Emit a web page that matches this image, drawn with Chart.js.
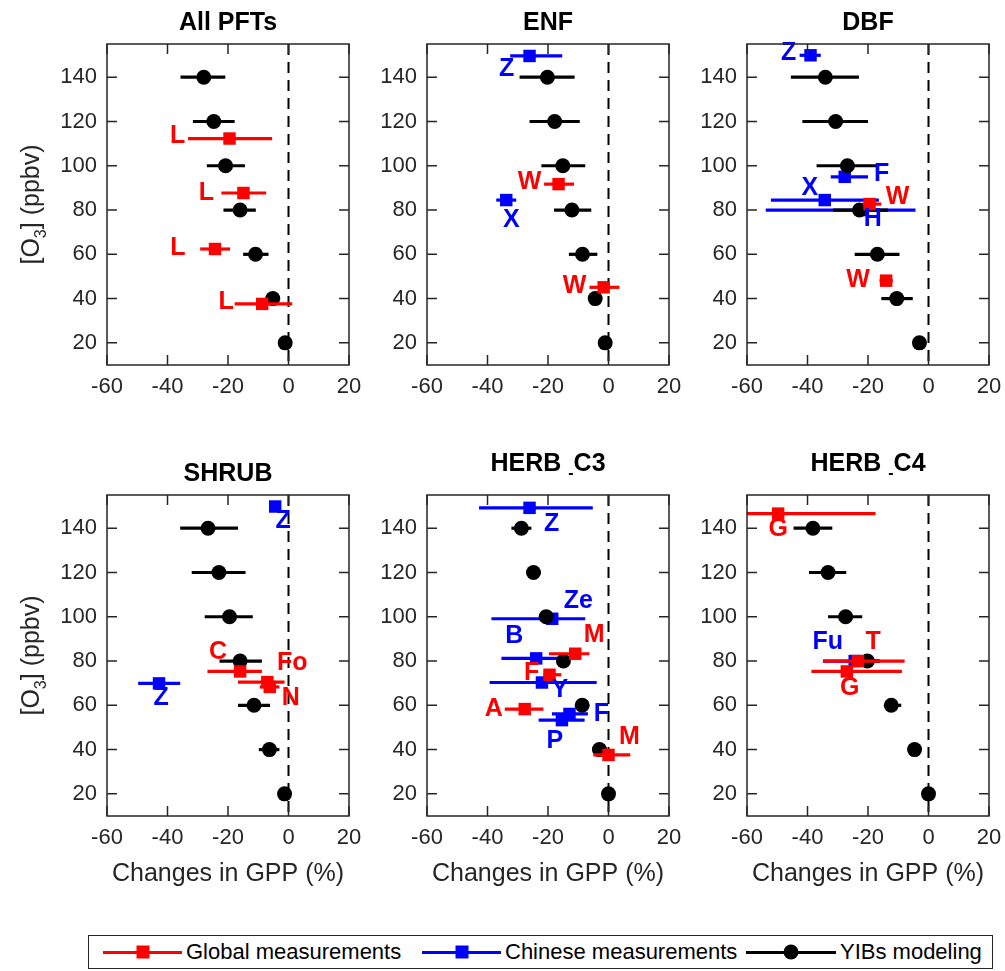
<!DOCTYPE html>
<html>
<head>
<meta charset="utf-8">
<script src="https://cdn.jsdelivr.net/npm/chart.js@4.4.0/dist/chart.umd.min.js"></script>
<style>
  body { margin: 0; background: #fff; }
  #fig { position: relative; width: 1005px; height: 971px; font-family: "Liberation Sans", Arial, sans-serif; }
  #fig canvas { position: absolute; }
  #legend { position: absolute; left: 88px; top: 935px; width: 903px; height: 32px; border: 1px solid #262626; }
  .key { position: absolute; top: 16px; height: 3px; margin-top: -1.5px; }
  .mk { position: absolute; top: 50%; left: 50%; transform: translate(-50%, -50%); }
  .txt { position: absolute; top: 0; line-height: 32px; font-size: 22px; color: #000; white-space: nowrap; }
</style>
</head>
<body>
<div id="fig">
  <div id="legend">
    <div class="key" style="left:14px;width:79px;background:#ff0000"><div class="mk" style="width:13px;height:13px;background:#ff0000"></div></div>
    <div class="txt" style="left:97px">Global measurements</div>
    <div class="key" style="left:333px;width:79px;background:#0000ff"><div class="mk" style="width:13px;height:13px;background:#0000ff"></div></div>
    <div class="txt" style="left:416px">Chinese measurements</div>
    <div class="key" style="left:657px;width:90px;background:#000"><div class="mk" style="width:15px;height:15px;border-radius:50%;background:#000"></div></div>
    <div class="txt" style="left:751px">YIBs modeling</div>
  </div>
</div>
<script>
// O3 levels and axis ticks
const o3Levels = [20, 40, 60, 80, 100, 120, 140];
const gppTicks = [-60, -40, -20, 0, 20];
const panelTitles = ['All PFTs', 'ENF', 'DBF', 'SHRUB', 'HERB_C3', 'HERB_C4'];

// YIBs modeling: [mean, low, high] at each O3 level
const yibsAll = [[-1.1, -1.1, -1.1], [-5.2, -7, -3.5], [-10.9, -15, -6.6], [-16, -21.5, -10.8], [-20.8, -27, -14.4], [-24.7, -31.6, -17.8], [-28, -35.7, -20.9]];
const yibsEnf = [[-1.1, -1.1, -1.1], [-4.4, -6, -3], [-8.6, -13.1, -3.7], [-12.1, -18, -5.7], [-15.1, -22.2, -7.7], [-17.8, -26.1, -9.5], [-20.2, -29.4, -11.2]];
const yibsDbf = [[-3, -3, -3], [-10.5, -15.6, -5.2], [-16.9, -24.4, -9.6], [-22.8, -31.6, -13.4], [-26.8, -37, -17], [-30.7, -41.7, -20], [-34.1, -45.5, -23]];
const yibsShrub = [[-1.3, -1.3, -1.3], [-6.3, -9.8, -3], [-11.4, -16.7, -6.1], [-16, -22.8, -8.8], [-19.5, -27.7, -11.8], [-23, -32, -14.2], [-26.6, -35.8, -16.7]];
const yibsC3 = [[0, 0, 0], [-3, -4.5, -1.5], [-8.7, -10, -7.3], [-14.9, -16, -13.5], [-20.6, -22, -19], [-24.8, -27, -22.5], [-28.8, -32.1, -25.5]];
const yibsC4 = [[0, 0, 0], [-4.6, -5.5, -3.7], [-12.3, -14.5, -9], [-20.2, -25.5, -16], [-27.4, -33.2, -21.9], [-33.2, -39.5, -27.2], [-38.2, -44.6, -31.8]];

// measurements: [change, O3, low, high, study tag]
const allGlobal = [[-19.5, 112.3, -33.2, -5.4, 'L'], [-14.9, 87.7, -22.2, -7.4, 'L'], [-24.3, 62.4, -29.2, -19.3, 'L'], [-8.7, 37.6, -17.8, 1.2, 'L']];
const allChinese = [];
const enfGlobal = [[-16.5, 91.7, -21.3, -11.4, 'W'], [-1.6, 45.1, -6.3, 3.6, 'W']];
const enfChinese = [[-26.1, 149.6, -32.5, -15.3, 'Z'], [-33.8, 84.5, -37.1, -30.5, 'X']];
const dbfGlobal = [[-19.5, 82.7, -21.7, -15.6, 'W'], [-14, 48.1, -16.2, -11.8, 'W']];
const dbfChinese = [[-39, 149.9, -42.6, -35.6, 'Z'], [-27.7, 95, -32.3, -20, 'F'], [-34.3, 84.5, -52.1, -16.4, 'X'], [-21.7, 80, -53.8, -4.3, 'H']];
const shrubGlobal = [[-16, 75.3, -26.8, -8.8, 'C'], [-7, 70.5, -16.7, -1.3, 'Fo'], [-6.2, 68.3, -9.5, -3, 'N']];
const shrubChinese = [[-4.4, 149.8, -5.5, -3.3, 'Z'], [-42.8, 69.9, -49.7, -35.8, 'Z']];
const c3Global = [[-11, 83.3, -19.7, -6.3, 'M'], [-19.5, 73.8, -21.5, -15.6, 'F'], [-27.7, 58.3, -34.3, -21.5, 'A'], [0, 37.6, -5, 7.2, 'M']];
const c3Chinese = [[-26.1, 149.2, -42.8, -5.2, 'Z'], [-18.6, 99.1, -38.7, -7.7, 'Ze'], [-23.9, 81.2, -35.4, -13.1, 'B'], [-22, 70.3, -39.3, -3.9, 'Y'], [-12.9, 56.1, -18.7, -6.8, 'F'], [-15.4, 53.3, -23.1, -7.9, 'P']];
const c4Global = [[-49.7, 146.6, -61, -17.5, 'G'], [-23.3, 80, -34.9, -7.9, 'T'], [-27, 75.3, -38.7, -8.8, 'G']];
const c4Chinese = [[-24.4, 80, -34.9, -16.2, 'Fu']];

// tag placement, pixel offset from marker
const allGlobalTag = [[-52, -2], [-37, 0], [-37, -1], [-36, -2]];
const enfGlobalTag = [[-29, -2], [-29, -1]];
const enfChineseTag = [[-23, 13], [5, 20]];
const dbfGlobalTag = [[28, -7], [-28, -1]];
const dbfChineseTag = [[-22, -2], [37, -3], [-15, -12], [10, 9]];
const shrubGlobalTag = [[-22, -19], [25, -19], [21, 11]];
const shrubChineseTag = [[8, 15], [2, 15]];
const c3GlobalTag = [[19, -19], [-18, -2], [-31, 0], [21, -18]];
const c3ChineseTag = [[22, 16], [26, -18], [-22, -22], [18, 8], [32, 0], [-7, 21]];
const c4GlobalTag = [[0, 16], [15, -19], [3, 17]];
const c4ChineseTag = [[-27, -19]];

const panels = [
  { yibs: yibsAll, glob: allGlobal, globTag: allGlobalTag, chn: allChinese, chnTag: [] },
  { yibs: yibsEnf, glob: enfGlobal, globTag: enfGlobalTag, chn: enfChinese, chnTag: enfChineseTag },
  { yibs: yibsDbf, glob: dbfGlobal, globTag: dbfGlobalTag, chn: dbfChinese, chnTag: dbfChineseTag },
  { yibs: yibsShrub, glob: shrubGlobal, globTag: shrubGlobalTag, chn: shrubChinese, chnTag: shrubChineseTag },
  { yibs: yibsC3, glob: c3Global, globTag: c3GlobalTag, chn: c3Chinese, chnTag: c3ChineseTag },
  { yibs: yibsC4, glob: c4Global, globTag: c4GlobalTag, chn: c4Chinese, chnTag: c4ChineseTag }
];

const FONT = '"Liberation Sans", Arial, Helvetica, sans-serif';
Chart.defaults.font.family = FONT;
Chart.defaults.color = '#262626';

const plotLefts = [107, 427, 747];
const plotTops = [44, 495];
const plotW = 242, plotH = 321;
const padL = 100, padT = 44, padR = 14;

// draws text with an optional subscript part: parts = [[text, isSub], ...]
function drawRich(ctx, parts, x, y, size, weight, align) {
  const subSize = Math.round(size * 0.62);
  let total = 0;
  const widths = parts.map(([t, sub]) => {
    ctx.font = `${weight} ${sub ? subSize : size}px ${FONT}`;
    const w = ctx.measureText(t).width;
    total += w;
    return w;
  });
  let cx = align === 'center' ? x - total / 2 : x;
  parts.forEach(([t, sub], i) => {
    ctx.font = `${weight} ${sub ? subSize : size}px ${FONT}`;
    ctx.fillText(t, cx, y + (sub ? size * 0.28 : 0));
    cx += widths[i];
  });
}

const decor = {
  id: 'decor',
  beforeDatasetsDraw(chart) {
    const { ctx, chartArea: a, scales: { x } } = chart;
    const x0 = x.getPixelForValue(0);
    ctx.save();
    ctx.strokeStyle = '#000';
    ctx.lineWidth = 2;
    ctx.setLineDash([11, 7]);
    ctx.beginPath();
    ctx.moveTo(x0, a.top);
    ctx.lineTo(x0, a.bottom);
    ctx.stroke();
    ctx.restore();
  },
  beforeDatasetDraw(chart, args) {
    const ds = chart.data.datasets[args.index];
    if (!ds.bars) return;
    const { ctx, chartArea: a, scales: { x, y } } = chart;
    ctx.save();
    ctx.beginPath();
    ctx.rect(a.left, a.top, a.right - a.left, a.bottom - a.top);
    ctx.clip();
    ctx.strokeStyle = ds.borderColor;
    ctx.lineWidth = 3.2;
    ds.data.forEach((p, i) => {
      const [lo, hi] = ds.bars[i];
      if (hi - lo <= 0) return;
      const py = y.getPixelForValue(p.y);
      ctx.beginPath();
      ctx.moveTo(x.getPixelForValue(lo), py);
      ctx.lineTo(x.getPixelForValue(hi), py);
      ctx.stroke();
    });
    ctx.restore();
  },
  afterDatasetsDraw(chart) {
    const { ctx, scales: { x, y } } = chart;
    ctx.save();
    ctx.textAlign = 'center';
    ctx.textBaseline = 'middle';
    ctx.font = `bold 25px ${FONT}`;
    chart.data.datasets.forEach(ds => {
      if (!ds.tags) return;
      ctx.fillStyle = ds.borderColor;
      ds.data.forEach((p, i) => {
        const [dx, dy] = ds.tagAt[i];
        ctx.fillText(ds.tags[i], x.getPixelForValue(p.x) + dx, y.getPixelForValue(p.y) + dy);
      });
    });
    ctx.restore();
  },
  afterDraw(chart, args, opts) {
    const { ctx, chartArea: a, scales: { x, y } } = chart;
    ctx.save();
    // box and inward ticks
    ctx.strokeStyle = '#262626';
    ctx.lineWidth = 1.5;
    ctx.strokeRect(a.left, a.top, a.right - a.left, a.bottom - a.top);
    ctx.beginPath();
    gppTicks.forEach(v => {
      const px = x.getPixelForValue(v);
      ctx.moveTo(px, a.bottom); ctx.lineTo(px, a.bottom - 10);
      ctx.moveTo(px, a.top); ctx.lineTo(px, a.top + 10);
    });
    o3Levels.forEach(v => {
      const py = y.getPixelForValue(v);
      ctx.moveTo(a.left, py); ctx.lineTo(a.left + 10, py);
      ctx.moveTo(a.right, py); ctx.lineTo(a.right - 10, py);
    });
    ctx.stroke();

    const cx = (a.left + a.right) / 2;
    ctx.fillStyle = '#000';
    ctx.textBaseline = 'alphabetic';
    const t = opts.title.split('_');
    if (t.length > 1) {
      drawRich(ctx, [[t[0] + ' ', false], ['-', true], [t[1], false]], cx, a.top - 24, 25, 'bold', 'center');
    } else {
      drawRich(ctx, [[t[0], false]], cx, a.top - 14, 25, 'bold', 'center');
    }

    ctx.fillStyle = '#262626';
    if (opts.yTitle) {
      ctx.save();
      ctx.translate(a.left - 68, (a.top + a.bottom) / 2);
      ctx.rotate(-Math.PI / 2);
      drawRich(ctx, [['[O', false], ['3', true], ['] (ppbv)', false]], 0, 0, 25, 'normal', 'center');
      ctx.restore();
    }
    if (opts.xTitle) {
      drawRich(ctx, [['Changes in GPP (%)', false]], cx, a.bottom + 65, 25, 'normal', 'center');
    }
    ctx.restore();
  }
};

function markerSet(rows, tagAt, label, color) {
  return {
    label,
    data: rows.map(r => ({ x: r[0], y: r[1] })),
    bars: rows.map(r => [r[2], r[3]]),
    tags: rows.map(r => r[4]),
    tagAt,
    pointStyle: 'rect',
    pointRadius: 8.8,
    pointHoverRadius: 8.8,
    backgroundColor: color,
    borderColor: color,
    borderWidth: 0,
    showLine: false
  };
}

const fig = document.getElementById('fig');
panels.forEach((p, k) => {
  const col = k % 3, row = Math.floor(k / 3);
  const bottomSpace = row === 1 ? 90 : 50;
  const canvas = document.createElement('canvas');
  const w = padL + plotW + padR, h = padT + plotH + bottomSpace;
  canvas.style.left = (plotLefts[col] - padL) + 'px';
  canvas.style.top = (plotTops[row] - padT) + 'px';
  canvas.style.width = w + 'px';
  canvas.style.height = h + 'px';
  canvas.width = w;
  canvas.height = h;
  fig.appendChild(canvas);

  const yibsSet = {
    label: 'YIBs modeling',
    data: p.yibs.map((r, i) => ({ x: r[0], y: o3Levels[i] })),
    bars: p.yibs.map(r => [r[1], r[2]]),
    pointStyle: 'circle',
    pointRadius: 7.5,
    pointHoverRadius: 7.5,
    backgroundColor: '#000',
    borderColor: '#000',
    borderWidth: 0,
    showLine: false
  };

  new Chart(canvas, {
    type: 'scatter',
    data: {
      datasets: [
        markerSet(p.glob, p.globTag, 'Global measurements', '#ff0000'),
        yibsSet,
        markerSet(p.chn, p.chnTag, 'Chinese measurements', '#0000ff')
      ]
    },
    options: {
      responsive: false,
      animation: false,
      events: [],
      layout: { padding: { left: 0, top: padT, right: padR, bottom: 0 } },
      scales: {
        x: {
          type: 'linear',
          min: -60,
          max: 20,
          afterBuildTicks: s => { s.ticks = gppTicks.map(v => ({ value: v })); },
          afterFit: s => { s.height = bottomSpace; s.paddingLeft = 0; s.paddingRight = 0; },
          grid: { display: false, drawTicks: false },
          border: { display: false },
          ticks: { font: { size: 22 }, color: '#262626', padding: 9, maxRotation: 0 }
        },
        y: {
          type: 'linear',
          min: 10,
          max: 155,
          afterBuildTicks: s => { s.ticks = o3Levels.map(v => ({ value: v })); },
          afterFit: s => { s.width = padL; s.paddingTop = 0; s.paddingBottom = 0; },
          grid: { display: false, drawTicks: false },
          border: { display: false },
          ticks: { font: { size: 22 }, color: '#262626', padding: 10 }
        }
      },
      plugins: {
        legend: { display: false },
        tooltip: { enabled: false },
        decor: { title: panelTitles[k], yTitle: col === 0, xTitle: row === 1 }
      }
    },
    plugins: [decor]
  });
});
</script>
</body>
</html>
